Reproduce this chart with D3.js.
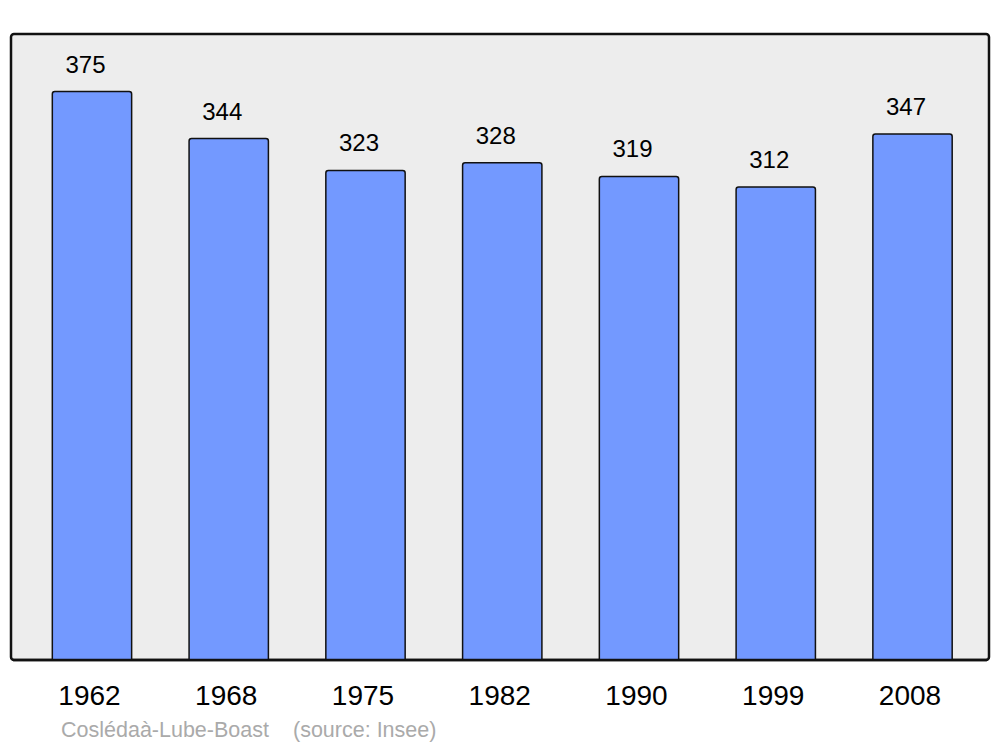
<!DOCTYPE html>
<html lang="en">
<head>
    <meta charset="UTF-8">
    <title>Population: Coslédaà-Lube-Boast</title>
    <script src="https://d3js.org/d3.v7.min.js"></script>
    <style>
        body { margin: 0; background: #fff; }
        text { font-family: "Liberation Sans", Arial, sans-serif; }
    </style>
</head>
<body>
<svg width="1000" height="747"></svg>
<script type="text/javascript">

    // data
    var years  = ["1962", "1968", "1975", "1982", "1990", "1999", "2008"];
    var values = [375, 344, 323, 328, 319, 312, 347];

    var svg = d3.select("svg");

    // panel box
    var panelLeft = 11, panelRight = 989, panelTop = 34, panelBottom = 660;

    svg.append("rect")
        .attr("x", panelLeft)
        .attr("y", panelTop)
        .attr("width", panelRight - panelLeft)
        .attr("height", panelBottom - panelTop)
        .attr("rx", 3)
        .attr("fill", "#ededed")
        .attr("stroke", "#111")
        .attr("stroke-width", 2.5);

    var x = d3.scaleBand()
        .domain(years)
        .range([23.6, 980.9])
        .paddingInner(0.42)
        .paddingOuter(0.21);

    var y = d3.scaleLinear()
        .domain([0, 413])
        .range([panelBottom, panelTop]);

    // bar with rounded top corners only
    function barPath(x0, w, yTop, yBot) {
        var r = 2.5;
        return "M" + x0 + "," + yBot +
            "V" + (yTop + r) +
            "Q" + x0 + "," + yTop + " " + (x0 + r) + "," + yTop +
            "H" + (x0 + w - r) +
            "Q" + (x0 + w) + "," + yTop + " " + (x0 + w) + "," + (yTop + r) +
            "V" + yBot + "Z";
    }

    var data = years.map(function(d, i) { return { year: d, value: values[i] }; });

    svg.selectAll("path.bar")
        .data(data)
        .enter().append("path")
        .attr("class", "bar")
        .attr("d", function(d) { return barPath(x(d.year), x.bandwidth(), y(d.value), panelBottom); })
        .attr("fill", "#7399ff")
        .attr("stroke", "#111")
        .attr("stroke-width", 1.5);

    // redraw bottom border over bar edges
    svg.append("line")
        .attr("x1", panelLeft + 2).attr("x2", panelRight - 2)
        .attr("y1", panelBottom).attr("y2", panelBottom)
        .attr("stroke", "#111")
        .attr("stroke-width", 2.5);

    // value labels (sit a little left of the bar centre in the original)
    svg.selectAll("text.value")
        .data(data)
        .enter().append("text")
        .attr("class", "value")
        .attr("x", function(d) { return x(d.year) + x.bandwidth() / 2 - 6.5; })
        .attr("y", function(d) { return y(d.value) - 19; })
        .attr("text-anchor", "middle")
        .style("font-size", "24px")
        .attr("fill", "#000")
        .text(function(d) { return d.value; });

    // year labels
    svg.selectAll("text.year")
        .data(data)
        .enter().append("text")
        .attr("class", "year")
        .attr("x", function(d) { return x(d.year) + x.bandwidth() / 2 - 2.5; })
        .attr("y", 705)
        .attr("text-anchor", "middle")
        .style("font-size", "28px")
        .attr("fill", "#000")
        .text(function(d) { return d.year; });

    // footer
    svg.append("text")
        .attr("x", 61).attr("y", 737)
        .style("font-size", "21.5px")
        .attr("fill", "#aaaaaa")
        .text("Coslédaà-Lube-Boast");
    svg.append("text")
        .attr("x", 293).attr("y", 737)
        .style("font-size", "21.5px")
        .attr("fill", "#aaaaaa")
        .text("(source: Insee)");

</script>
</body>
</html>
